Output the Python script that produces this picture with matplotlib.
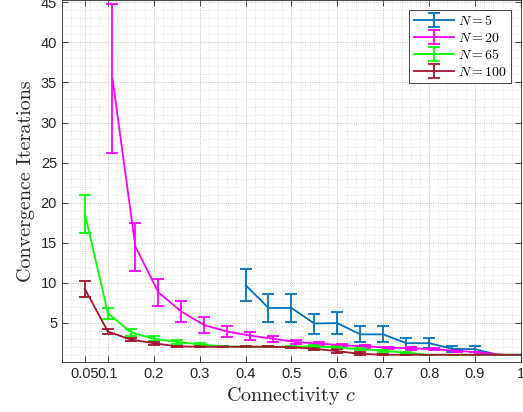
import numpy as np
import matplotlib.pyplot as plt
from matplotlib.ticker import MultipleLocator

# connectivity values per series
c_n5 = [0.4, 0.45, 0.5, 0.55, 0.6, 0.65, 0.7, 0.75, 0.8, 0.85, 0.9, 0.95, 1.0]
c_n20 = [0.11, 0.16, 0.21, 0.26, 0.31, 0.36, 0.41, 0.46, 0.51, 0.56, 0.61,
         0.66, 0.71, 0.76, 0.81, 0.86, 0.91, 0.96]
c_full = [0.05, 0.1, 0.15, 0.2, 0.25, 0.3, 0.35, 0.4, 0.45, 0.5, 0.55, 0.6,
          0.65, 0.7, 0.75, 0.8, 0.85, 0.9, 0.95, 1.0]

# mean convergence iterations and error bars
it_n5 = [9.7, 6.85, 6.85, 4.9, 4.95, 3.55, 3.55, 2.45, 2.45, 1.75, 1.7, 1.0, 1.0]
err_n5 = [1.95, 1.75, 1.75, 1.25, 1.35, 1.0, 1.0, 0.6, 0.6, 0.4, 0.35, 0.0, 0.0]

it_n20 = [35.5, 14.5, 8.8, 6.4, 4.7, 3.9, 3.4, 3.0, 2.6, 2.4, 2.2, 2.05,
          1.9, 1.8, 1.7, 1.5, 1.3, 1.0]
err_n20 = [9.3, 3.0, 1.7, 1.3, 1.0, 0.7, 0.5, 0.35, 0.25, 0.2, 0.15, 0.15,
           0.12, 0.15, 0.15, 0.15, 0.1, 0.0]

it_n65 = [18.6, 6.2, 3.8, 3.0, 2.6, 2.3, 2.05, 2.0, 2.0, 2.0, 2.05, 1.9,
          1.7, 1.5, 1.25, 1.0, 1.0, 1.0, 1.0, 1.0]
err_n65 = [2.4, 0.7, 0.4, 0.3, 0.25, 0.15, 0.1, 0.05, 0.05, 0.05, 0.15, 0.15,
           0.15, 0.1, 0.1, 0.0, 0.0, 0.0, 0.0, 0.0]

it_n100 = [9.2, 3.9, 2.9, 2.45, 2.05, 2.0, 2.0, 2.0, 2.0, 1.95, 1.75, 1.45,
           1.12, 1.0, 1.0, 1.0, 1.0, 1.0, 1.0, 1.0]
err_n100 = [1.0, 0.35, 0.15, 0.2, 0.1, 0.05, 0.05, 0.05, 0.05, 0.05, 0.2, 0.25,
            0.2, 0.05, 0.0, 0.0, 0.0, 0.0, 0.0, 0.0]

xtick_vals = [0.05, 0.1, 0.2, 0.3, 0.4, 0.5, 0.6, 0.7, 0.8, 0.9, 1.0]
xtick_labels = ['0.05', '0.1', '0.2', '0.3', '0.4', '0.5', '0.6', '0.7', '0.8', '0.9', '1']
ytick_vals = [5, 10, 15, 20, 25, 30, 35, 40, 45]

plt.rcParams['mathtext.fontset'] = 'cm'
plt.rcParams['font.family'] = 'Liberation Sans'

fig = plt.figure(figsize=(5.23, 4.12), dpi=100)
ax = fig.add_axes([0.1185, 0.1214, 0.8775, 0.8786])

series = [
    (c_n5, it_n5, err_n5, '#0072BD', r'$N = 5$'),
    (c_n20, it_n20, err_n20, '#FF00FF', r'$N = 20$'),
    (c_full, it_n65, err_n65, '#00FF00', r'$N = 65$'),
    (c_full, it_n100, err_n100, '#A2142F', r'$N = 100$'),
]
for x, y, e, col, lab in series:
    ax.errorbar(x, y, yerr=e, color=col, lw=1.3, elinewidth=1.3,
                capsize=4.5, capthick=1.3, label=lab)

ax.set_xlim(0, 1)
ax.set_ylim(0.1, 45.3)
ax.set_xticks(xtick_vals)
ax.set_xticklabels(xtick_labels)
ax.set_yticks(ytick_vals)
ax.xaxis.set_minor_locator(MultipleLocator(0.02))
ax.yaxis.set_minor_locator(MultipleLocator(1))
ax.tick_params(which='major', direction='in', length=4, top=True, right=True,
               labelsize=10.5, colors='#262626', width=0.6)
ax.tick_params(which='minor', length=0, top=True, right=True)
ax.grid(which='major', ls=':', color='#b0b0b0', lw=0.6)
ax.grid(which='minor', ls=':', color='#d4d4d4', lw=0.5)
ax.set_axisbelow(True)
for s in ax.spines.values():
    s.set_color('#262626')
    s.set_linewidth(0.6)

ax.set_xlabel(r'Connectivity $c$', family='cmr10', fontsize=14.5, color='#262626', labelpad=3)
ax.set_ylabel('Convergence Iterations', family='cmr10', fontsize=14.5, color='#262626', labelpad=4)

leg = ax.legend(loc='upper right', fontsize=10, fancybox=False, framealpha=1,
                edgecolor='#262626', borderaxespad=0.7, handlelength=2.9,
                labelspacing=0.22, borderpad=0.3, handletextpad=0.3)
leg.get_frame().set_linewidth(0.6)

plt.savefig('out.png', dpi=100)
